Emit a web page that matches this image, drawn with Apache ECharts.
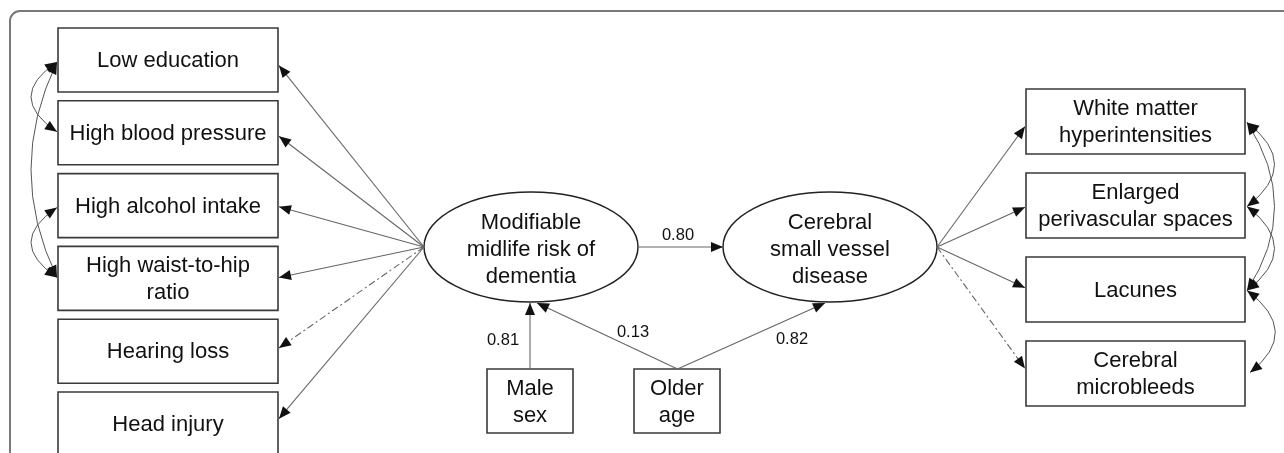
<!DOCTYPE html>
<html>
<head>
<meta charset="utf-8">
<script src="https://cdn.jsdelivr.net/npm/echarts@6/dist/echarts.min.js"></script>
<style>
  html, body { margin: 0; padding: 0; background: #fff; }
  #main { width: 1284px; height: 453px; }
</style>
</head>
<body>
<div id="main"></div>
<script>
// diagram content
const leftFactors = ['Low education', 'High blood pressure', 'High alcohol intake',
  'High waist-to-hip\nratio', 'Hearing loss', 'Head injury'];
const rightMarkers = ['White matter\nhyperintensities', 'Enlarged\nperivascular spaces',
  'Lacunes', 'Cerebral\nmicrobleeds'];
const latents = ['Modifiable\nmidlife risk of\ndementia', 'Cerebral\nsmall vessel\ndisease'];
const covariates = ['Male\nsex', 'Older\nage'];
// path coefficients: latent->latent, male->risk, age->risk, age->csvd
const pathValues = ['0.80', '0.81', '0.13', '0.82'];
const dashedLeft = ['Hearing loss'];
const dashedRight = ['Cerebral\nmicrobleeds'];
const leftCorrelations = [[0, 1], [0, 3], [2, 3]];
const rightCorrelations = [[0, 1], [0, 2], [1, 2], [2, 3]];

// layout
const FONT = '"Liberation Sans", Arial, sans-serif';
const leftBox = { x: 58, w: 220, h: 64, top: 28, step: 72.8 };
const rightBox = { x: 1026, w: 219, h: 65, top: 89, step: 84 };
const ell = [{ cx: 531, cy: 247, rx: 107, ry: 55 }, { cx: 830, cy: 247, rx: 107, ry: 55 }];
const covBox = { xs: [487, 634], y: 369, w: 86, h: 64 };

const shapes = [];
shapes.push({ kind: 'frame' });

const leftCY = leftFactors.map((_, i) => leftBox.top + i * leftBox.step + leftBox.h / 2);
const rightCY = rightMarkers.map((_, i) => rightBox.top + i * rightBox.step + rightBox.h / 2);

leftFactors.forEach((t, i) => shapes.push({ kind: 'box', x: leftBox.x, y: leftCY[i] - leftBox.h / 2, w: leftBox.w, h: leftBox.h, text: t }));
rightMarkers.forEach((t, i) => shapes.push({ kind: 'box', x: rightBox.x, y: rightCY[i] - rightBox.h / 2, w: rightBox.w, h: rightBox.h, text: t }));
covariates.forEach((t, i) => shapes.push({ kind: 'box', x: covBox.xs[i], y: covBox.y, w: covBox.w, h: covBox.h, text: t }));
latents.forEach((t, i) => shapes.push(Object.assign({ kind: 'ellipse', text: t }, ell[i])));

// loadings
const lo = [ell[0].cx - ell[0].rx, ell[0].cy];
leftFactors.forEach((t, i) => {
  const ty = leftCY[i] + 0.03 * (lo[1] - leftCY[i]);
  shapes.push({ kind: 'arrow', from: lo, to: [leftBox.x + leftBox.w + 1, ty], dash: dashedLeft.includes(t) });
});
const ro = [ell[1].cx + ell[1].rx, ell[1].cy];
rightMarkers.forEach((t, i) => {
  const ty = rightCY[i] + 0.04 * (ro[1] - rightCY[i]);
  shapes.push({ kind: 'arrow', from: ro, to: [rightBox.x - 1, ty], dash: dashedRight.includes(t) });
});

// structural paths
shapes.push({ kind: 'arrow', from: [ell[0].cx + ell[0].rx, ell[0].cy], to: [ell[1].cx - ell[1].rx, ell[1].cy] });
const maleTop = [covBox.xs[0] + covBox.w / 2, covBox.y];
const ageTop = [covBox.xs[1] + covBox.w / 2 + 0.5, covBox.y];
shapes.push({ kind: 'arrow', from: maleTop, to: [maleTop[0], ell[0].cy + ell[0].ry + 1] });
shapes.push({ kind: 'arrow', from: ageTop, to: [ell[0].cx + 6, ell[0].cy + ell[0].ry + 1] });
shapes.push({ kind: 'arrow', from: ageTop, to: [ell[1].cx - 5, ell[1].cy + ell[1].ry + 1] });

shapes.push({ kind: 'label', x: 678, y: 235, text: pathValues[0] });
shapes.push({ kind: 'label', x: 503, y: 340, text: pathValues[1] });
shapes.push({ kind: 'label', x: 633, y: 332, text: pathValues[2] });
shapes.push({ kind: 'label', x: 792, y: 339, text: pathValues[3] });

// correlations (double-headed curves)
leftCorrelations.forEach(([a, b]) => {
  const y1 = leftCY[a] + 2, y2 = leftCY[b] - 1;
  shapes.push({ kind: 'curve', p1: [leftBox.x - 1, y1], p2: [leftBox.x - 1, y2], cp: [5, (y1 + y2) / 2] });
});
rightCorrelations.forEach(([a, b]) => {
  const y1 = rightCY[a] + 1, y2 = rightCY[b] + (b === 3 ? -1 : 1);
  const ex = rightBox.x + rightBox.w + 2;
  shapes.push({ kind: 'curve', p1: [ex, y1], p2: [ex + (b === 3 ? 3 : 0), y2], cp: [1302, (y1 + y2) / 2] });
});

function head(tip, from, L, hw) {
  const dx = tip[0] - from[0], dy = tip[1] - from[1];
  const len = Math.sqrt(dx * dx + dy * dy) || 1;
  const ux = dx / len, uy = dy / len;
  const bx = tip[0] - ux * L, by = tip[1] - uy * L;
  return {
    type: 'polygon',
    shape: { points: [tip, [bx - uy * hw, by + ux * hw], [bx + uy * hw, by - ux * hw]] },
    style: { fill: '#111' }
  };
}

function renderItem(params, api) {
  const s = shapes[params.dataIndex];
  const c = p => api.coord(p);
  const textStyle = (x, y, text, size) => ({
    type: 'text',
    style: { text: text, x: x, y: y, align: 'center', verticalAlign: 'middle',
      fontSize: size, lineHeight: 27, fontFamily: FONT, fill: '#111' }
  });
  if (s.kind === 'frame') {
    const p = c([10, 11]);
    return { type: 'rect', shape: { x: p[0], y: p[1], width: 1320, height: 520, r: 10 },
      style: { fill: 'none', stroke: '#7a7a7a', lineWidth: 2 } };
  }
  if (s.kind === 'box') {
    const p = c([s.x, s.y]);
    return { type: 'group', children: [
      { type: 'rect', shape: { x: p[0], y: p[1], width: s.w, height: s.h },
        style: { fill: '#fff', stroke: '#3a3a3a', lineWidth: 1.6 } },
      textStyle(p[0] + s.w / 2, p[1] + s.h / 2 + 1, s.text, 22)
    ] };
  }
  if (s.kind === 'ellipse') {
    const p = c([s.cx, s.cy]);
    return { type: 'group', children: [
      { type: 'ellipse', shape: { cx: p[0], cy: p[1], rx: s.rx, ry: s.ry },
        style: { fill: '#fff', stroke: '#222', lineWidth: 1.5 } },
      textStyle(p[0], p[1] + 3, s.text, 22)
    ] };
  }
  if (s.kind === 'label') {
    const p = c([s.x, s.y]);
    return textStyle(p[0], p[1], s.text, 16.5);
  }
  if (s.kind === 'arrow') {
    const a = c(s.from), b = c(s.to);
    return { type: 'group', children: [
      { type: 'line', shape: { x1: a[0], y1: a[1], x2: b[0], y2: b[1] },
        style: { stroke: '#666', lineWidth: 1.1, lineDash: s.dash ? [7, 3, 2, 3] : null } },
      head(b, a, 12, 5)
    ] };
  }
  if (s.kind === 'curve') {
    const a = c(s.p1), b = c(s.p2), q = c(s.cp);
    return { type: 'group', children: [
      { type: 'bezierCurve', shape: { x1: a[0], y1: a[1], x2: b[0], y2: b[1], cpx1: q[0], cpy1: q[1] },
        style: { stroke: '#555', lineWidth: 1, fill: 'none' } },
      head(a, q, 12, 5),
      head(b, q, 12, 5)
    ] };
  }
  return null;
}

const chart = echarts.init(document.getElementById('main'), null, { renderer: 'canvas' });
chart.setOption({
  animation: false,
  backgroundColor: '#fff',
  grid: { left: 0, right: 0, top: 0, bottom: 0 },
  xAxis: { type: 'value', min: 0, max: 1284, show: false },
  yAxis: { type: 'value', min: 0, max: 453, inverse: true, show: false },
  series: [{
    type: 'custom',
    coordinateSystem: 'cartesian2d',
    clip: false,
    renderItem: renderItem,
    data: shapes.map((s, i) => [i, 0])
  }]
});
</script>
</body>
</html>
